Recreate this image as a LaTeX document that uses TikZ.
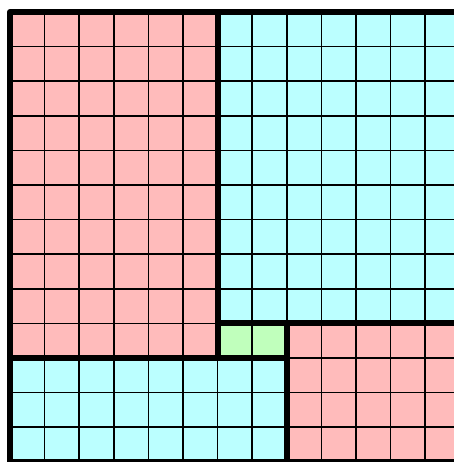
\documentclass[tikz,border=0pt]{standalone}
\definecolor{pinkfill}{RGB}{255,187,187}
\definecolor{cyanfill}{RGB}{187,255,255}
\definecolor{greenfill}{RGB}{192,255,188}
\tikzset{
  thinline/.style={line width=0.045cm, black},
  thickline/.style={line width=0.17cm, black, line join=round},
}
\begin{document}
\begin{tikzpicture}[x=1cm, y=-1cm]
\useasboundingbox (-0.289,-0.347) rectangle (12.832,13.006);
\clip (-0.289,-0.347) rectangle (12.832,13.006);
% fills
\fill[pinkfill] (0,0) rectangle (6,10);
\fill[cyanfill] (6,0) rectangle (14,9);
\fill[greenfill] (6,9) rectangle (8,10);
\fill[cyanfill] (0,10) rectangle (8,13);
\fill[pinkfill] (8,9) rectangle (14,13);
% grid
\draw[thinline] (0,0) grid (14,13);
% thick borders
\draw[thickline] (0,0) rectangle (6,10);
\draw[thickline] (6,0) rectangle (14,9);
\draw[thickline] (6,9) rectangle (8,10);
\draw[thickline] (0,10) rectangle (8,13);
\draw[thickline] (8,9) rectangle (14,13);
\end{tikzpicture}
\end{document}
